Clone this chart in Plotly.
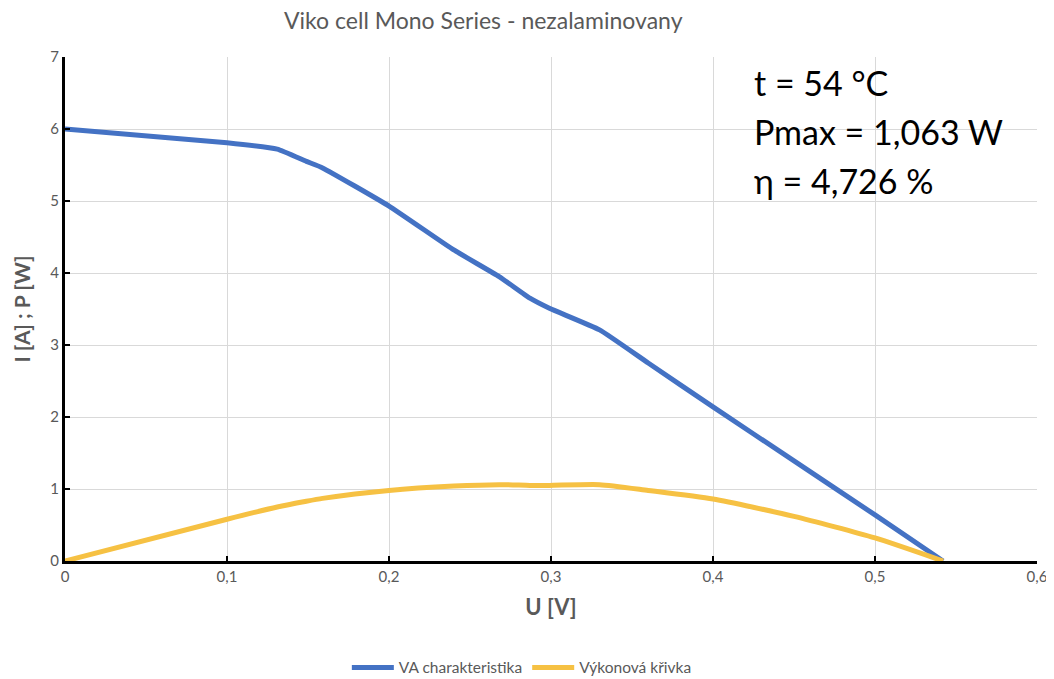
import plotly.graph_objects as go

# Data
voltage = [0.0, 0.1, 0.131, 0.149, 0.159, 0.2, 0.24, 0.268, 0.287, 0.299, 0.33, 0.36, 0.40, 0.45, 0.50, 0.542]
current = [6.0, 5.81, 5.72, 5.55, 5.46, 4.93, 4.32, 3.95, 3.65, 3.51, 3.21, 2.75, 2.14, 1.39, 0.64, 0.0]
power = [0.0, 0.58, 0.75, 0.83, 0.87, 0.98, 1.04, 1.06, 1.05, 1.05, 1.06, 0.98, 0.86, 0.62, 0.32, 0.0]

x_ticks = [0, 0.1, 0.2, 0.3, 0.4, 0.5, 0.6]
x_tick_labels = ["0", "0,1", "0,2", "0,3", "0,4", "0,5", "0,6"]
y_ticks = [0, 1, 2, 3, 4, 5, 6, 7]

chart_title = "Viko cell Mono Series - nezalaminovany"
series_names = ["VA charakteristika", "Výkonová křivka"]
info_lines = ["t = 54 °C", "Pmax = 1,063 W", "η = 4,726 %"]

FONT = "Lato, 'Open Sans', sans-serif"
GRAY = "#595959"

# page body has an 8px margin, so the figure is drawn 8px in from the top-left
W, H = 1046, 671

fig = go.Figure()
fig.add_trace(go.Scatter(x=voltage, y=current, mode="lines", name=series_names[0],
                         line=dict(color="#4472C4", width=5, shape="spline", smoothing=0.4)))
fig.add_trace(go.Scatter(x=voltage, y=power, mode="lines", name=series_names[1],
                         line=dict(color="#F6C143", width=5, shape="spline", smoothing=0.6)))

fig.update_layout(
    width=W, height=H,
    margin=dict(l=57, r=17, t=49, b=118, autoexpand=False),
    paper_bgcolor="white", plot_bgcolor="white",
    font=dict(family=FONT, color=GRAY, size=14),
    legend=dict(orientation="h", x=0.47, xanchor="center", y=-0.212, yanchor="middle",
                font=dict(size=15.5, color=GRAY), itemwidth=42, traceorder="normal"),
    showlegend=True,
)

fig.add_annotation(text=chart_title, xref="paper", yref="paper",
                   x=(483 - 65) / 972, y=1 + (57 - 20) / 504,
                   xanchor="center", yanchor="middle", showarrow=False,
                   font=dict(size=23, color=GRAY, family=FONT))

fig.update_xaxes(range=[0, 0.6], tickvals=x_ticks, ticktext=x_tick_labels,
                 showgrid=True, gridcolor="#D9D9D9", gridwidth=1.3,
                 showline=True, linecolor="black", linewidth=3,
                 ticks="inside", ticklen=5, tickwidth=2, tickcolor="black",
                 zeroline=False, tickfont=dict(size=15, color=GRAY), automargin=False,
                 title=dict(text="<b>U [V]</b>", font=dict(size=22, color=GRAY), standoff=16))
fig.update_yaxes(range=[0, 7], tickvals=y_ticks,
                 showgrid=True, gridcolor="#D9D9D9", gridwidth=1.3,
                 showline=True, linecolor="black", linewidth=3,
                 ticks="inside", ticklen=5, tickwidth=2, tickcolor="black",
                 zeroline=False, tickfont=dict(size=15, color=GRAY), automargin=False,
                 title=dict(text="<b>I [A] ; P [W]</b>", font=dict(size=21, color=GRAY), standoff=14))

y_positions = [82, 131, 180]
for txt, ypx in zip(info_lines, y_positions):
    fig.add_annotation(text=txt, xref="paper", yref="paper",
                       x=(752 - 65) / 972, y=(561 - ypx) / 504,
                       xanchor="left", yanchor="middle", showarrow=False,
                       font=dict(size=34, color="black", family=FONT))

fig.write_html("out.html")
